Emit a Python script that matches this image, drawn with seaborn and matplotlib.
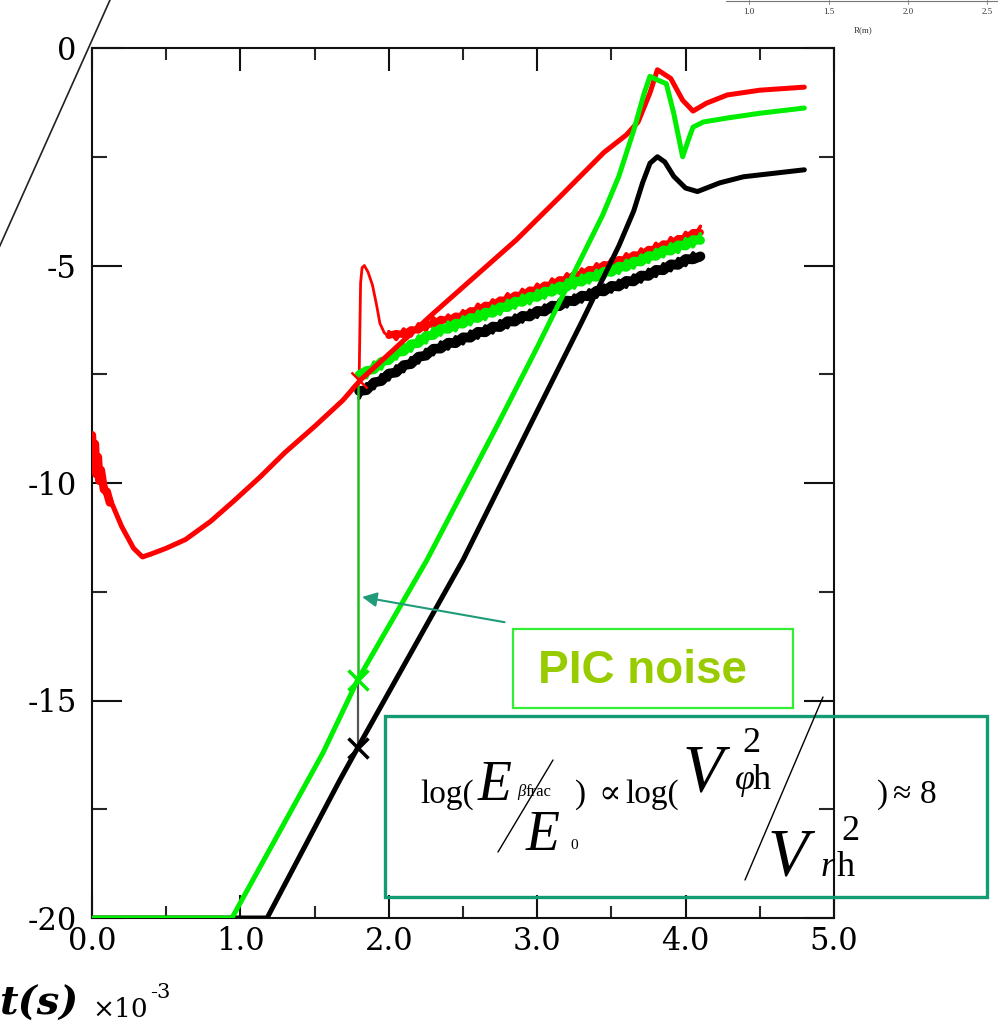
import numpy as np
import pandas as pd
import matplotlib
matplotlib.use("Agg")
import matplotlib.pyplot as plt
import seaborn as sns
from matplotlib.lines import Line2D
from matplotlib.patches import Rectangle

# ---------------- data (t in 1e-3 s, log energy) ----------------
red_t = [0.0, 0.05, 0.10, 0.20, 0.28, 0.34, 0.40, 0.50, 0.63, 0.80, 0.96, 1.13, 1.30, 1.50, 1.69,
         1.81, 2.30, 2.86, 3.15, 3.45, 3.60, 3.68, 3.76, 3.81, 3.90, 3.98, 4.05, 4.14, 4.28, 4.50,
         4.80]
red_y = [-9.3, -9.75, -10.2, -11.0, -11.5, -11.7, -11.63, -11.5, -11.3, -10.88, -10.4, -9.87, -9.3,
         -8.7, -8.1, -7.63, -6.1, -4.41, -3.43, -2.4, -2.0, -1.7, -1.03, -0.5, -0.7, -1.2, -1.45,
         -1.27, -1.08, -0.97, -0.9]
red_start_t = [0.0, 0.01, 0.02, 0.03, 0.04, 0.05, 0.06, 0.08, 0.10, 0.12]
red_start_y = [-8.9, -9.6, -9.1, -9.8, -9.4, -9.95, -9.7, -10.15, -10.2, -10.45]

green_t = [0.0, 0.943, 1.557, 1.79, 2.257, 2.75, 3.00, 3.20, 3.44, 3.55, 3.65, 3.72, 3.76, 3.80,
           3.87, 3.92, 3.98, 4.02, 4.05, 4.12, 4.28, 4.50, 4.80]
green_y = [-20, -20, -16.2, -14.53, -11.77, -8.55, -6.88, -5.5, -3.85, -2.95, -1.9, -1.05, -0.65,
           -0.72, -0.82, -1.5, -2.5, -2.1, -1.82, -1.7, -1.61, -1.5, -1.38]

black_t = [0.0, 1.18, 1.67, 1.79, 2.5, 2.97, 3.30, 3.55, 3.65, 3.71, 3.76, 3.81, 3.86, 3.92, 4.00,
           4.08, 4.23, 4.39, 4.80]
black_y = [-20, -20, -16.83, -16.09, -11.77, -8.55, -6.3, -4.55, -3.75, -3.1, -2.65, -2.5, -2.62,
           -2.95, -3.22, -3.3, -3.1, -2.96, -2.8]

# PIC noise runs
noise_t = [1.80, 1.85, 1.90, 1.95, 2.00, 2.05, 2.10, 2.15, 2.20, 2.25, 2.30, 2.35, 2.40, 2.45, 2.50,
           2.55, 2.60, 2.65, 2.70, 2.75, 2.80, 2.85, 2.90, 2.95, 3.00, 3.05, 3.10, 3.15, 3.20, 3.25,
           3.30, 3.35, 3.40, 3.45, 3.50, 3.55, 3.60, 3.65, 3.70, 3.75, 3.80, 3.85, 3.90, 3.95, 4.00,
           4.05, 4.10]
green_noise = [-7.45, -7.58, -7.22, -7.38, -7.02, -7.15, -6.82, -6.97, -6.62, -6.78, -6.44, -6.60,
               -6.30, -6.50, -6.18, -6.36, -6.05, -6.24, -5.93, -6.12, -5.80, -5.98, -5.68, -5.88,
               -5.57, -5.75, -5.45, -5.64, -5.33, -5.52, -5.22, -5.40, -5.11, -5.30, -4.99, -5.18,
               -4.88, -5.06, -4.76, -4.93, -4.63, -4.80, -4.50, -4.70, -4.38, -4.57, -4.27]
black_noise = [-8.05, -7.72, -7.83, -7.51, -7.63, -7.31, -7.44, -7.12, -7.24, -6.93, -7.05, -6.76,
               -6.92, -6.64, -6.80, -6.51, -6.67, -6.39, -6.55, -6.27, -6.43, -6.14, -6.30, -6.03,
               -6.19, -5.91, -6.07, -5.79, -5.95, -5.68, -5.84, -5.56, -5.73, -5.45, -5.61, -5.34,
               -5.50, -5.22, -5.38, -5.09, -5.25, -4.96, -5.12, -4.84, -5.00, -4.71, -4.87]
red_noise_t = noise_t[4:]
red_noise = [-6.52, -6.70, -6.46, -6.62, -6.34, -6.50, -6.20, -6.36, -6.14, -6.30, -6.04, -6.18,
             -5.89, -6.05, -5.79, -5.93, -5.65, -5.83, -5.55, -5.70, -5.43, -5.60, -5.31, -5.47,
             -5.19, -5.35, -5.08, -5.23, -4.96, -5.12, -4.85, -5.00, -4.73, -4.90, -4.62, -4.77,
             -4.49, -4.65, -4.36, -4.53, -4.24, -4.38, -4.10]
red_spike_t = [1.80, 1.805, 1.81, 1.82, 1.835, 1.86, 1.89, 1.92, 1.94, 1.97, 2.00]
red_spike_y = [-7.63, -6.5, -5.4, -5.05, -5.0, -5.15, -5.45, -5.95, -6.33, -6.55, -6.62]

t_switch = 1.79
green_mark_y = -14.53
black_mark_y = -16.09
red_mark_y = -7.63
green_jump_top = -7.55

x_ticks = [0, 1, 2, 3, 4, 5]
x_ticklabels = ["0.0", "1.0", "2.0", "3.0", "4.0", "5.0"]
y_ticks = [0, -5, -10, -15, -20]
y_ticklabels = ["0", "-5", "-10", "-15", "-20"]

# ---------------- figure ----------------
W, H = 998, 1029
sns.set_theme(style="white")
plt.rcParams['font.family'] = ['Liberation Serif', 'DejaVu Serif']

fig = plt.figure(figsize=(W / 100, H / 100), dpi=100)
fig.patch.set_facecolor('white')


def fx(px):
    return px / W


def fy(py):
    return 1 - py / H


ax = fig.add_axes([fx(92), fy(918), (834 - 92) / W, (918 - 48) / H])
ax.set_facecolor('none')

RED, GREEN, BLACK = '#ff0000', '#00ee00', '#000000'


def line(t, y, color, lw, z, alpha=1.0):
    df = pd.DataFrame({'t': t, 'y': y})
    sns.lineplot(data=df, x='t', y='y', ax=ax, color=color, lw=lw, sort=False,
                 estimator=None, zorder=z, alpha=alpha, solid_joinstyle='round')


def band(t, y, color, lw, z):
    s = pd.Series(y)
    centre = s.rolling(3, center=True, min_periods=1).mean()
    line(t, centre, color, lw, z)
    line(t, y, color, 2.6, z + 0.05)


# noise bands
band(noise_t, black_noise, BLACK, 7, 2)
band(red_noise_t, red_noise, RED, 5, 2.5)
band(noise_t, green_noise, GREEN, 6.5, 3)
line(red_spike_t, red_spike_y, RED, 2.0, 2.6)

# smooth runs
line(red_start_t, red_start_y, RED, 6, 4)
line(red_t, red_y, RED, 3.6, 4)
line(black_t, black_y, BLACK, 3.6, 4)
line(green_t, green_y, GREEN, 3.6, 4.2)

# switch from linear to nonlinear run
line([t_switch, t_switch], [black_mark_y, green_mark_y], '#555555', 1.6, 3.5)
line([t_switch, t_switch], [green_mark_y, green_jump_top], '#22bb22', 1.8, 3.5)
ax.plot([t_switch], [green_mark_y], marker='x', ms=15, mew=2.5, color=GREEN, zorder=5)
ax.plot([t_switch], [black_mark_y], marker='x', ms=15, mew=2.5, color=BLACK, zorder=5)
ax.plot([t_switch + 0.01], [red_mark_y], marker='x', ms=11, mew=1.8, color=RED, zorder=5)

ax.set_xlim(0, 5)
ax.set_ylim(-20, 0)
ax.set_xlabel('')
ax.set_ylabel('')
ax.set_xticks(x_ticks)
ax.set_xticklabels(x_ticklabels)
ax.set_yticks(y_ticks)
ax.set_yticklabels(y_ticklabels)
ax.set_xticks(np.arange(0.5, 5, 1.0), minor=True)
ax.set_yticks(np.arange(-17.5, 0, 5.0), minor=True)
for s in ax.spines.values():
    s.set_visible(True)
    s.set_linewidth(1.5)
    s.set_color('#111111')
ax.tick_params(axis='x', which='major', direction='in', length=16.5, width=1.5,
               top=True, bottom=True, labelsize=22, pad=6, colors='#111111')
ax.tick_params(axis='x', which='minor', direction='in', length=8.5, width=1.5,
               top=True, bottom=True)
ax.tick_params(axis='y', which='major', direction='in', length=21.5, width=1.5,
               left=True, right=True, labelsize=22, pad=11, colors='#111111')
ax.tick_params(axis='y', which='minor', direction='in', length=10.5, width=1.5,
               left=True, right=True)
for lab in ax.get_xticklabels() + ax.get_yticklabels():
    lab.set_color('black')
    lab.set_family(['DejaVu Serif'])

# arrow to the PIC jump
ax.annotate('', xy=(1.82, -12.62), xytext=(2.78, -13.2), xycoords='data',
            arrowprops=dict(arrowstyle='-|>', color='#1f9b7a', lw=1.5, mutation_scale=22,
                            shrinkA=0, shrinkB=0), zorder=6)

# PIC noise box
fig.add_artist(Rectangle((fx(513), fy(708)), (793 - 513) / W, (708 - 629) / H,
                         transform=fig.transFigure, fill=False, ec='#33ee33', lw=1.6))
fig.text(fx(642), fy(683), 'PIC noise', family=['Liberation Sans', 'DejaVu Sans'],
         fontweight='bold', fontsize=33, color='#99cc00', ha='center', va='baseline')

# equation box
fig.add_artist(Rectangle((fx(385), fy(897)), (987 - 385) / W, (897 - 716) / H,
                         transform=fig.transFigure, fill=False, ec='#139c74', lw=2.4))
SER = ['Liberation Serif', 'DejaVu Serif']


def ft(px, py, s, size, style='normal', fam=None, **kw):
    fig.text(fx(px), fy(py), s, family=fam or SER, fontsize=size, style=style,
             ha='left', va='baseline', color='black', **kw)


ft(420, 803, 'log(', 24)
ft(478, 800, 'E', 40, 'italic')
ft(517, 796, 'β', 12, 'italic')
ft(525, 796, 'frac', 12)
fig.add_artist(Line2D([fx(553), fx(498)], [fy(760), fy(852)], transform=fig.transFigure,
                      color='black', lw=1.0))
ft(526, 850, 'E', 40, 'italic')
ft(570, 849, '0', 11)
ft(575, 803, ')', 24)
ft(598, 803, '∝', 24)
ft(625, 803, 'log(', 24)
ft(683, 790, 'V', 48, 'italic')
ft(742, 752, '2', 26)
ft(735, 789, 'φ', 26, 'italic')
ft(753, 789, 'h', 26)
fig.add_artist(Line2D([fx(823), fx(745)], [fy(697), fy(880)], transform=fig.transFigure,
                      color='black', lw=1.0))
ft(768, 875, 'V', 48, 'italic')
ft(841, 840, '2', 26)
ft(821, 876, 'r', 26, 'italic')
ft(837, 876, 'h', 26)
ft(877, 803, ')', 24)
ft(892, 803, '≈', 24)
ft(920, 803, '8', 24)

# axis label t(s) x10^-3
ft(-1, 1015, 't(s)', 29, 'italic', fam=['DejaVu Serif'], fontweight='bold')
ft(92, 1017, '×10', 19, fam=['DejaVu Serif'])
ft(150, 998, '-3', 15, fam=['DejaVu Serif'])
ft(-11, 948, ')', 20)

# stray diagonal line and cropped neighbouring axis at top right
fig.add_artist(Line2D([fx(110), fx(-2)], [fy(0), fy(250)], transform=fig.transFigure,
                      color='#222222', lw=1.2))
fig.add_artist(Line2D([fx(726), fx(998)], [fy(1), fy(1)], transform=fig.transFigure,
                      color='#777777', lw=0.8))
for px, lab in zip([749, 829, 908, 987], ['1.0', '1.5', '2.0', '2.5']):
    fig.add_artist(Line2D([fx(px), fx(px)], [fy(0), fy(4)], transform=fig.transFigure,
                          color='#777777', lw=0.6))
    fig.text(fx(px), fy(14), lab, family=SER, fontsize=6.5, color='#333333',
             ha='center', va='baseline')
fig.text(fx(863), fy(32), 'R(m)', family=SER, fontsize=6.5, color='#333333',
         ha='center', va='baseline')

fig.savefig('out.png', dpi=100, facecolor='white')
